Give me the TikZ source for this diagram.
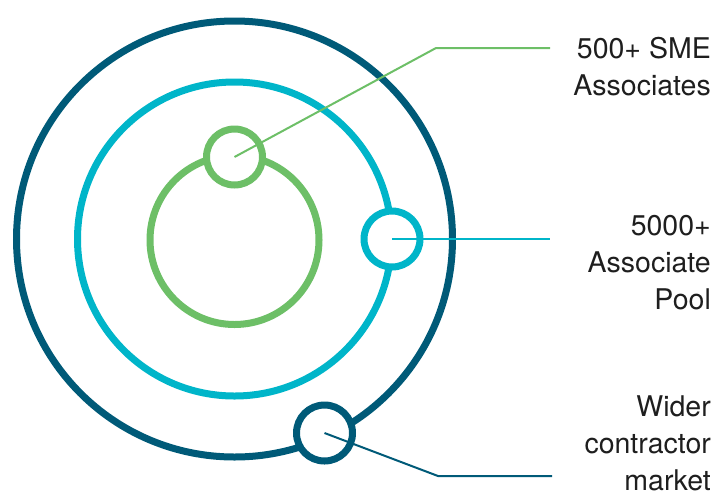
\documentclass[tikz,border=0pt]{standalone}
\usepackage{fontspec}
\setmainfont{TeX Gyre Heros}
\definecolor{darkc}{HTML}{005A78}
\definecolor{cyanc}{HTML}{00B5C9}
\definecolor{greenc}{HTML}{6DBF67}
\definecolor{textc}{HTML}{1E1E1E}
\tikzset{
  ring/.style={line width=7pt},
  dot/.style={circle, draw, fill=white, line width=7pt, minimum size=56pt, inner sep=0pt},
  lead/.style={line width=2pt},
  lbl/.style={anchor=base east, inner sep=0pt, align=right, text=textc,
    font=\fontsize{28.5pt}{37pt}\selectfont}
}
\begin{document}
\begin{tikzpicture}[x=1pt,y=-1pt]
\useasboundingbox (0,0) rectangle (719,496);
% big rings
\draw[ring, darkc] (234.5,239) circle (218);
\draw[ring, cyanc] (234.5,239) circle (157);
\draw[ring, greenc] (234.5,240) circle (84.5);
% small circles
\node[dot, draw=greenc] (g) at (234.5,157) {};
\node[dot, draw=cyanc] (c) at (392,239) {};
\node[dot, draw=darkc] (d) at (324.5,433) {};
% leader knees and ends
\coordinate (gk) at (436,48);
\coordinate (ge) at (550,48);
\coordinate (ce) at (550,239);
\coordinate (dk) at (438,476);
\coordinate (de) at (552,476);
\draw[lead, greenc] (g.center) -- (gk) -- (ge);
\draw[lead, cyanc] (c.center) -- (ce);
\draw[lead, darkc] (d.center) -- (dk) -- (de);
% labels
\node[lbl] (t1) at (711,95) {500+ SME\\Associates};
\node[lbl] (t2) at (711,309) {5000+\\Associate\\Pool};
\node[lbl, text depth=0pt] (t3) at (711,490) {Wider\\contractor\\market};
\end{tikzpicture}
\end{document}
